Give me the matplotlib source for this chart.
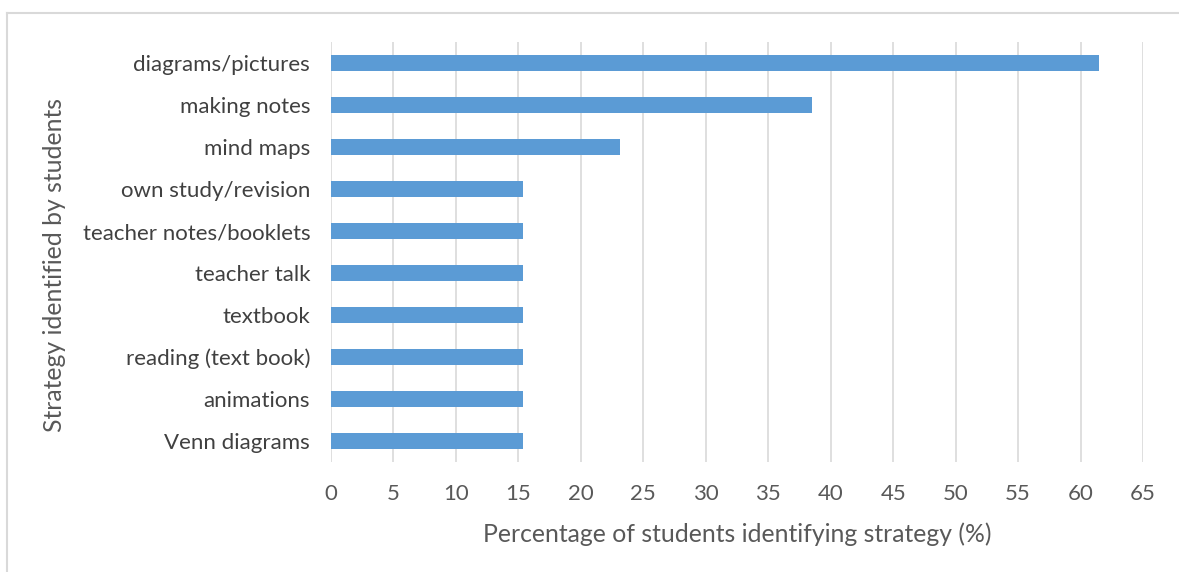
import matplotlib
matplotlib.use('Agg')
import matplotlib.pyplot as plt
from matplotlib.lines import Line2D

# strategies listed top to bottom as in the chart
strategies = ['diagrams/pictures', 'making notes', 'mind maps', 'own study/revision',
              'teacher notes/booklets', 'teacher talk', 'textbook',
              'reading (text book)', 'animations', 'Venn diagrams']
percentages = [61.5, 38.5, 23.1, 15.4, 15.4, 15.4, 15.4, 15.4, 15.4, 15.4]
x_ticks = list(range(0, 70, 5))

plt.rcParams['font.family'] = ['Lato', 'DejaVu Sans']

W, H = 1179, 572
fig = plt.figure(figsize=(W / 100, H / 100), dpi=100)
ax = fig.add_axes([331 / W, 1 - 462 / H, (1143 - 331) / W, (462 - 42) / H])

ypos = list(range(len(strategies)))[::-1]
ax.barh(ypos, percentages, height=0.36, color='#5B9BD5', zorder=3)

ax.set_xlim(0, 65)
ax.set_ylim(-0.5, len(strategies) - 0.5)
ax.set_xticks(x_ticks)
ax.set_yticks(ypos)
ax.set_yticklabels(strategies)
ax.grid(True, axis='x', color='#D9D9D9', linewidth=1.2, zorder=0)
for s in ax.spines.values():
    s.set_visible(False)
ax.tick_params(axis='y', length=0, pad=15, labelsize=16, labelcolor='#404040')
ax.tick_params(axis='x', length=0, pad=15.5, labelsize=16, labelcolor='#595959')

ax.set_xlabel('Percentage of students identifying strategy (%)', fontsize=17.8,
              color='#595959', labelpad=13.5)
fig.text(55 / W, 1 - 265 / H, 'Strategy identified by students', rotation=90,
         ha='center', va='center', fontsize=17.8, color='#595959')

# light chart-area frame
fig.add_artist(Line2D([7 / W, 7 / W], [0, 1 - 13 / H], transform=fig.transFigure,
                      color='#D9D9D9', linewidth=1.5))
fig.add_artist(Line2D([7 / W, 1], [1 - 13 / H, 1 - 13 / H], transform=fig.transFigure,
                      color='#D9D9D9', linewidth=1.5))

fig.savefig('out.png', dpi=100, facecolor='white')
